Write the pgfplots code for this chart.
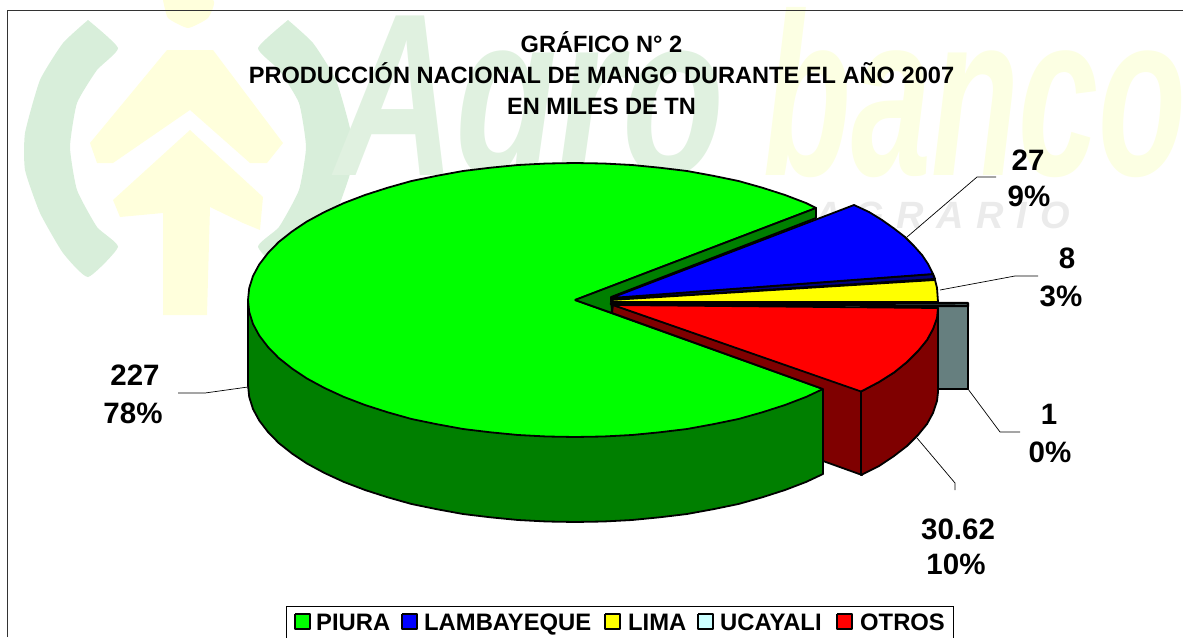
\documentclass[border=0pt]{standalone}
\usepackage{pgfplots}
\pgfplotsset{compat=1.18}
\usepackage{fontspec}
\setmainfont{Liberation Sans}
\definecolor{wgreen}{HTML}{D8EEDA}
\definecolor{wgreen2}{HTML}{E0F1E0}
\definecolor{wyellow}{HTML}{FFFFDC}
\definecolor{wyellow2}{HTML}{FCFFE3}
\definecolor{wgray}{HTML}{EBEBEB}
\definecolor{pgreen}{HTML}{00FF00}
\definecolor{dgreen}{HTML}{007F00}
\definecolor{pblue}{HTML}{0000FF}
\definecolor{dblue}{HTML}{00007F}
\definecolor{pyellow}{HTML}{FFFF00}
\definecolor{pcyan}{HTML}{CCFFFF}
\definecolor{dcyan}{HTML}{667F7F}
\definecolor{pred}{HTML}{FF0000}
\definecolor{dred}{HTML}{7F0000}
\newcommand{\titlefont}{\fontsize{23.6}{25}\selectfont\bfseries}
\newcommand{\labfont}{\fontsize{29.5}{31}\selectfont\bfseries}
\newcommand{\legfont}{\fontsize{23.8}{25}\selectfont\bfseries}
\tikzset{lab/.style={anchor=base,inner sep=0pt,font=\labfont},
 ttl/.style={anchor=base,inner sep=0pt,font=\titlefont},
 leg/.style={anchor=base west,inner sep=0pt,font=\legfont},
 wm/.style={anchor=base,inner sep=0pt}}
\pgfplotsset{
 pie/.style={draw=black,line width=1.8pt,line join=round,fill=#1,mark=none},
 wat/.style={draw=none,fill=#1,mark=none,smooth,tension=0.3},
 lead/.style={draw=black,line width=0.7pt,mark=none},
 sw/.style={draw=black,line width=2pt,line join=round,fill=#1,mark=none}}
\begin{document}
\begin{tikzpicture}
\path[use as bounding box] (0,0) rectangle (1183pt,637pt);
\begin{axis}[at={(0,0)},anchor=south west,scale only axis,width=1183pt,height=637pt,
 xmin=0,xmax=1183,ymin=0,ymax=637,y dir=reverse,hide axis,clip=true]
% --- watermark ---
\addplot[wat=wgreen] coordinates {(88,20)(63,43)(40,80)(25,133)(25,170)(40,213)(63,253)(88,277)(118,247)(97,227)(77,190)(70,147)(77,103)(97,70)(118,48)(88,20)};
\addplot[wat=wgreen] coordinates {(288,20)(313,43)(336,80)(351,133)(351,170)(336,213)(313,253)(288,277)(258,247)(279,227)(299,190)(306,147)(299,103)(279,70)(258,48)(288,20)};
\addplot[wat=wyellow] coordinates {(163,0)(168,18)(188,28)(208,18)(213,0)(163,0)};
\addplot[draw=none,fill=wyellow,mark=none] coordinates {(167,50)(213,50)(283,143)(267,163)(250,163)(190,110)(113,163)(97,163)(90,143)(167,50)};
\addplot[draw=none,fill=wyellow,mark=none] coordinates {(190,130)(263,197)(260,230)(243,223)(210,207)(207,315)(163,315)(163,213)(120,217)(113,200)(190,130)};
\node[wm,text=wgreen2,xscale=0.72] at (axis cs:530,175) {\fontsize{232}{240}\selectfont\bfseries\itshape Agro};
\node[wm,text=wyellow2,xscale=0.62] at (axis cs:975,175) {\fontsize{232}{240}\selectfont\bfseries\itshape banco};
\node[wm,text=wgray] at (axis cs:942,228) {\fontsize{38}{40}\selectfont\bfseries\itshape A\,\,G\,\,R\,\,A\,\,R\,\,I\,\,O};
% --- frame ---
\addplot[draw=black!80,line width=1.2pt,mark=none] coordinates {(7.5,637)(7.5,10.5)(1183,10.5)};
% --- leader lines ---
\addplot[lead] coordinates {(907,237)(977,177)(996,177)};
\addplot[lead] coordinates {(940,290)(1015,276)(1038,276)};
\addplot[lead] coordinates {(968,389)(1000,432)(1020,432)};
\addplot[lead] coordinates {(917,438)(955,483)(955,490)};
\addplot[lead] coordinates {(248,387)(205,393)(178,393)};
% --- UCAYALI: wall ---
\addplot[pie=dcyan] coordinates {(936,305)(968,305)(968,389)(936,389)(936,305)};
% --- PIURA: wall, top, cut face ---
\addplot[pie=dgreen] coordinates {(248,300)(248,385)(249.2,396.9)(253,409)(259.2,420.5)(268,432)(278.6,442.9)(292,453.5)(307.1,463.6)(324.5,473)(343.8,481.9)(365,490)(387.4,497.2)(411.5,504)(436.8,509.2)(463,514)(490.4,517.3)(518,520)(546.5,521.5)(575,522)(603.5,521.5)(632,520)(659.6,517.3)(687,514)(713.2,509.2)(738.5,504)(762.6,497.2)(785,490)(806.2,481.9)(823,474)(823,389)(248,300)};
\addplot[pie=pgreen] coordinates {(575,300)(816,208)(806.2,203.1)(785,195)(762.6,187.8)(738.5,181)(713.2,175.8)(687,171)(659.6,167.7)(632,165)(603.5,163.5)(575,163)(546.5,163.5)(518,165)(490.4,167.7)(463,171)(436.8,175.8)(411.5,181)(387.4,187.8)(365,195)(343.8,203.1)(324.5,212)(307.1,221.4)(292,231.5)(278.6,242.1)(268,253)(259.2,264.5)(253,276)(249.2,288.1)(248,300)(249.2,311.9)(253,324)(259.2,335.5)(268,347)(278.6,357.9)(292,368.5)(307.1,378.6)(324.5,388)(343.8,396.9)(365,405)(387.4,412.2)(411.5,419)(436.8,424.2)(463,429)(490.4,432.3)(518,435)(546.5,436.5)(575,437)(603.5,436.5)(632,435)(659.6,432.3)(687,429)(713.2,424.2)(738.5,419)(762.6,412.2)(785,405)(806.2,396.9)(823,389)(575,300)};
\addplot[pie=dgreen] coordinates {(575,300)(816,208)(816,218)(611,297)(612,313)(575,300)};
% --- OTROS: cut face, outer wall ---
\addplot[pie=dred] coordinates {(613,305)(862,391)(862,475)(823,461)(823,389)(612,313)(613,305)};
\addplot[pie=dred] coordinates {(861,391.5)(879,382)(894,372.5)(907,362)(918,351)(927,340)(933,329)(937,318)(938,308)(938,392)(937,401)(933,413)(927,424)(918,435)(907,446)(894,456)(879,466)(861,475)(861,391.5)};
% --- LAMBAYEQUE ---
\addplot[draw=black,line width=2pt,line join=round,fill=dblue,mark=none] coordinates {(611,298)(933,274)(935,279)(611,300)(611,298)};
\addplot[pie=pblue] coordinates {(611,298)(854,205)(869,212)(882,220)(894,228.5)(905,237)(914,246)(922,255)(928,264)(933,274)(611,298)};
% --- LIMA ---
\addplot[pie=pyellow] coordinates {(611,300)(935,280)(937,288)(938,302)(611,302)(611,300)};
% --- UCAYALI: top ---
\addplot[draw=black,line width=2.4pt,line join=round,fill=dcyan,mark=none] coordinates {(611,302.5)(968,303)(968,306)(611,304.5)(611,302.5)};
% --- OTROS: top ---
\addplot[pie=pred] coordinates {(613,305)(938,308)(937,318)(933,329)(927,340)(918,351)(907,362)(894,372.5)(879,382)(861,391.5)(613,305)};
% --- title ---
\node[ttl] at (axis cs:601.5,52) {GRÁFICO N° 2};
\node[ttl] at (axis cs:601.5,83) {PRODUCCIÓN NACIONAL DE MANGO DURANTE EL AÑO 2007};
\node[ttl] at (axis cs:601.5,114) {EN MILES DE TN};
% --- labels ---
\node[lab] at (axis cs:1028,170) {27};
\node[lab] at (axis cs:1029,206) {9\%};
\node[lab] at (axis cs:1067,268) {8};
\node[lab] at (axis cs:1061,306) {3\%};
\node[lab] at (axis cs:1049,424) {1};
\node[lab] at (axis cs:1050,462) {0\%};
\node[lab] at (axis cs:958,539) {30.62};
\node[lab] at (axis cs:956,574) {10\%};
\node[lab] at (axis cs:135,385) {227};
\node[lab] at (axis cs:133,423) {78\%};
% --- legend ---
\addplot[draw=black,line width=1pt,fill=white,mark=none] coordinates {(286.5,640)(286.5,606.5)(953,606.5)(953,640)};
\addplot[sw=pgreen] coordinates {(295,614)(310,614)(310,629)(295,629)(295,614)};
\addplot[sw=pblue] coordinates {(402,614)(417,614)(417,629)(402,629)(402,614)};
\addplot[sw=pyellow] coordinates {(605,614)(620,614)(620,629)(605,629)(605,614)};
\addplot[sw=pcyan] coordinates {(698,614)(713,614)(713,629)(698,629)(698,614)};
\addplot[sw=pred] coordinates {(837,614)(852,614)(852,629)(837,629)(837,614)};
\node[leg] at (axis cs:316,630) {PIURA};
\node[leg] at (axis cs:424,630) {LAMBAYEQUE};
\node[leg] at (axis cs:628,630) {LIMA};
\node[leg] at (axis cs:720,630) {UCAYALI};
\node[leg] at (axis cs:860,630) {OTROS};
\end{axis}
\end{tikzpicture}
\end{document}
